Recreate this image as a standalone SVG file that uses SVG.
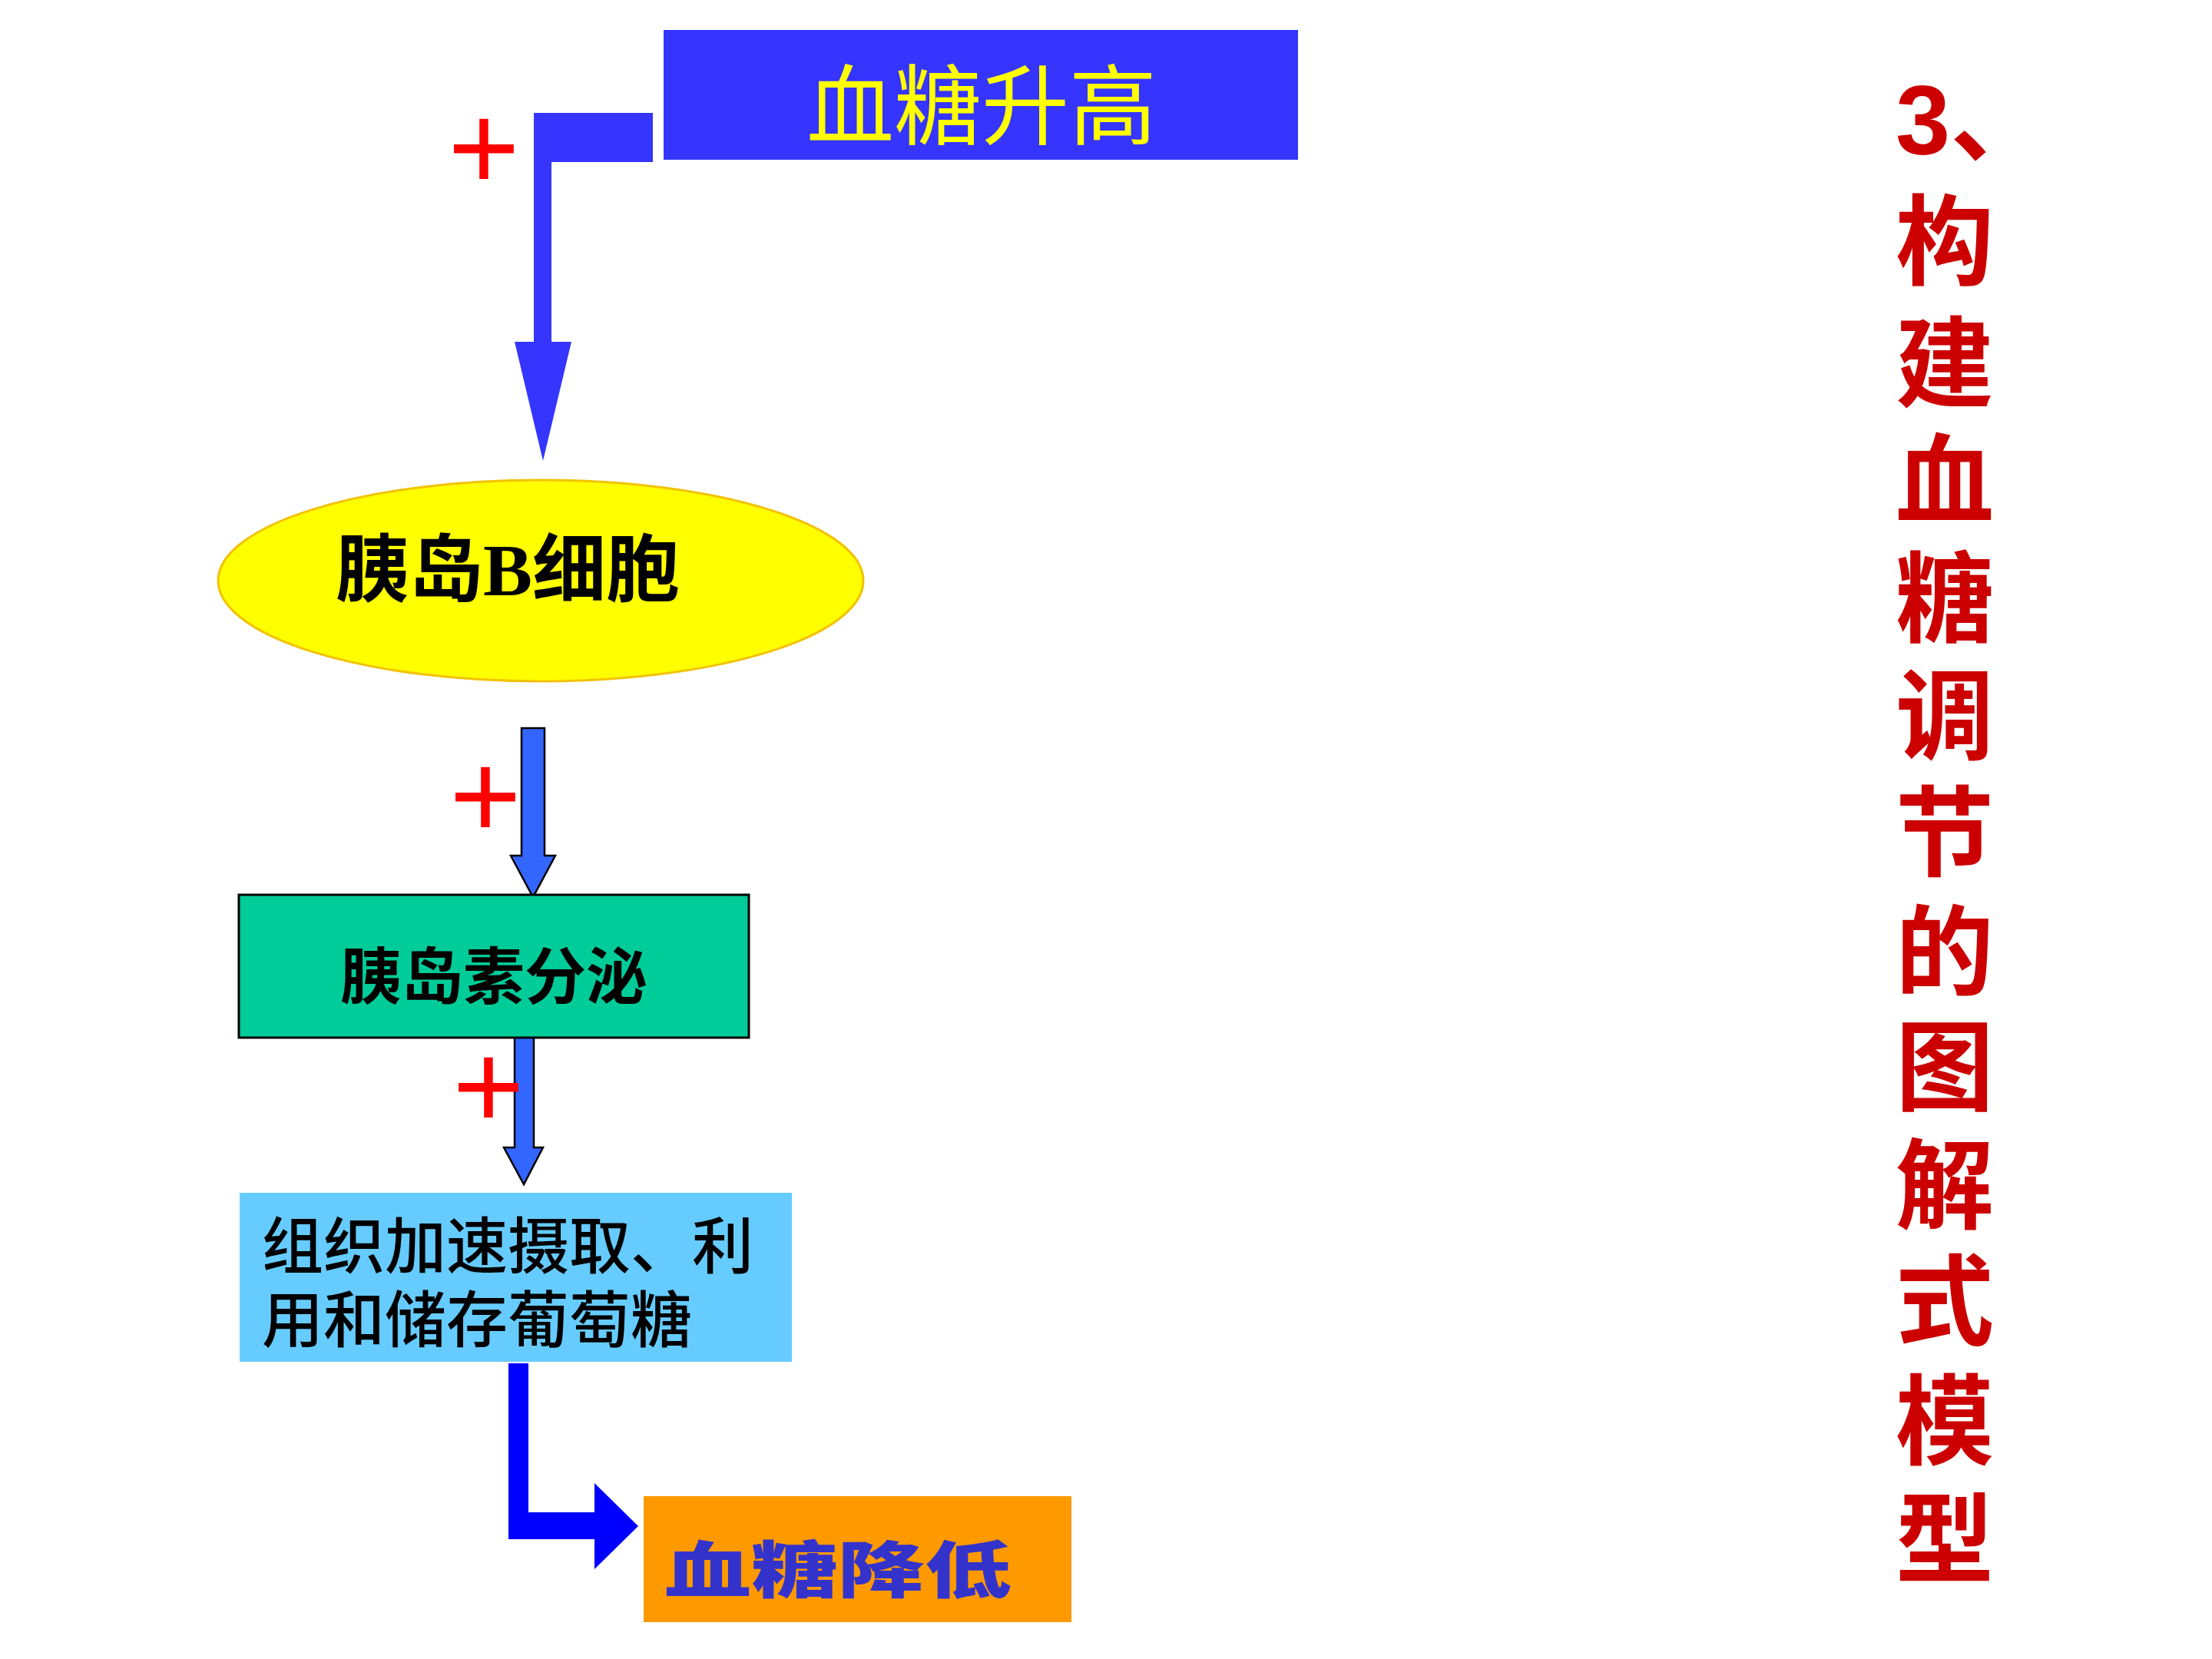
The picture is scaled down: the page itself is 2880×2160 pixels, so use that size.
<svg xmlns="http://www.w3.org/2000/svg" width="2880" height="2160" viewBox="0 0 2880 2160">
<style>
.cjk{font-family:"Liberation Serif","Noto Sans CJK SC",serif;}
.plus{font-family:"Liberation Sans",sans-serif;font-size:160px;fill:#FF0000;text-anchor:middle;}
.blk{fill:#000000;}
.title{font-family:"Liberation Sans","Noto Sans CJK SC",sans-serif;font-size:128px;font-weight:bold;fill:#CC0000;}
</style>
<rect x="0" y="0" width="2880" height="2160" fill="#FFFFFF"/>
<g id="connectors">
  <polygon id="c1" points="850,147 695,147 695,445 670,445 707,600 744,445 718,445 718,211 850,211" fill="#3535FF"/>
  <polygon id="c2" points="679,948 709,948 709,1114 723,1114 694,1168 665,1114 679,1114" fill="#3366FF" stroke="#000000" stroke-width="2.5" stroke-linejoin="miter"/>
  <polygon id="c3" points="670,1349 695,1349 695,1494 707,1494 682,1542 656,1494 670,1494" fill="#3366FF" stroke="#000000" stroke-width="2.5"/>
  <polygon id="c4" points="662,1775 688,1775 688,1969 774,1969 774,1931 831,1987 774,2043 774,2004 662,2004" fill="#0000FF"/>
  <text class="plus" x="630" y="247">+</text>
  <text class="plus" x="632" y="1091">+</text>
  <text class="plus" x="636" y="1469">+</text>
</g>
<g id="n_high">
  <rect x="864" y="39" width="826" height="169" fill="#3535FF"/>
  <text x="1278" y="179" text-anchor="middle" font-family="Noto Sans CJK SC, sans-serif" font-size="114" fill="#FFFF00">血糖升高</text>
</g>
<g id="n_bcell">
  <ellipse cx="704" cy="756" rx="420" ry="131" fill="#FFFF00" stroke="#F2C200" stroke-width="3"/>
  <text class="cjk blk" x="661" y="775" text-anchor="middle" font-size="96" font-weight="bold">胰岛B细胞</text>
</g>
<g id="n_secrete">
  <rect x="311" y="1165" width="664" height="186" fill="#00CC99" stroke="#000000" stroke-width="3"/>
  <text class="cjk blk" x="643" y="1300" text-anchor="middle" font-size="80" font-weight="bold">胰岛素分泌</text>
</g>
<g id="n_tissue">
  <rect x="312" y="1553" width="719" height="220" fill="#66CCFF"/>
  <text class="cjk blk" x="341" y="1651" font-size="80" font-weight="500">组织加速摄取、利</text>
  <text class="cjk blk" x="341" y="1747" font-size="80" font-weight="500">用和储存葡萄糖</text>
</g>
<g id="n_low">
  <rect x="838" y="1948" width="557" height="164" fill="#FF9900"/>
  <text x="865" y="2073" font-family="Noto Sans CJK SC, sans-serif" font-size="80" font-weight="900" fill="#3333CC" textLength="452" lengthAdjust="spacingAndGlyphs">血糖降低</text>
</g>
<g id="title">
  <text class="title" x="2468" y="201">3、</text>
  <text class="title" x="2468" y="361">构</text>
  <text class="title" x="2468" y="520">建</text>
  <text class="title" x="2468" y="672">血</text>
  <text class="title" x="2468" y="826">糖</text>
  <text class="title" x="2468" y="979">调</text>
  <text class="title" x="2468" y="1131">节</text>
  <text class="title" x="2468" y="1286">的</text>
  <text class="title" x="2468" y="1436">图</text>
  <text class="title" x="2468" y="1590">解</text>
  <text class="title" x="2468" y="1741">式</text>
  <text class="title" x="2468" y="1897">模</text>
  <text class="title" x="2468" y="2051">型</text>
</g>
</svg>
